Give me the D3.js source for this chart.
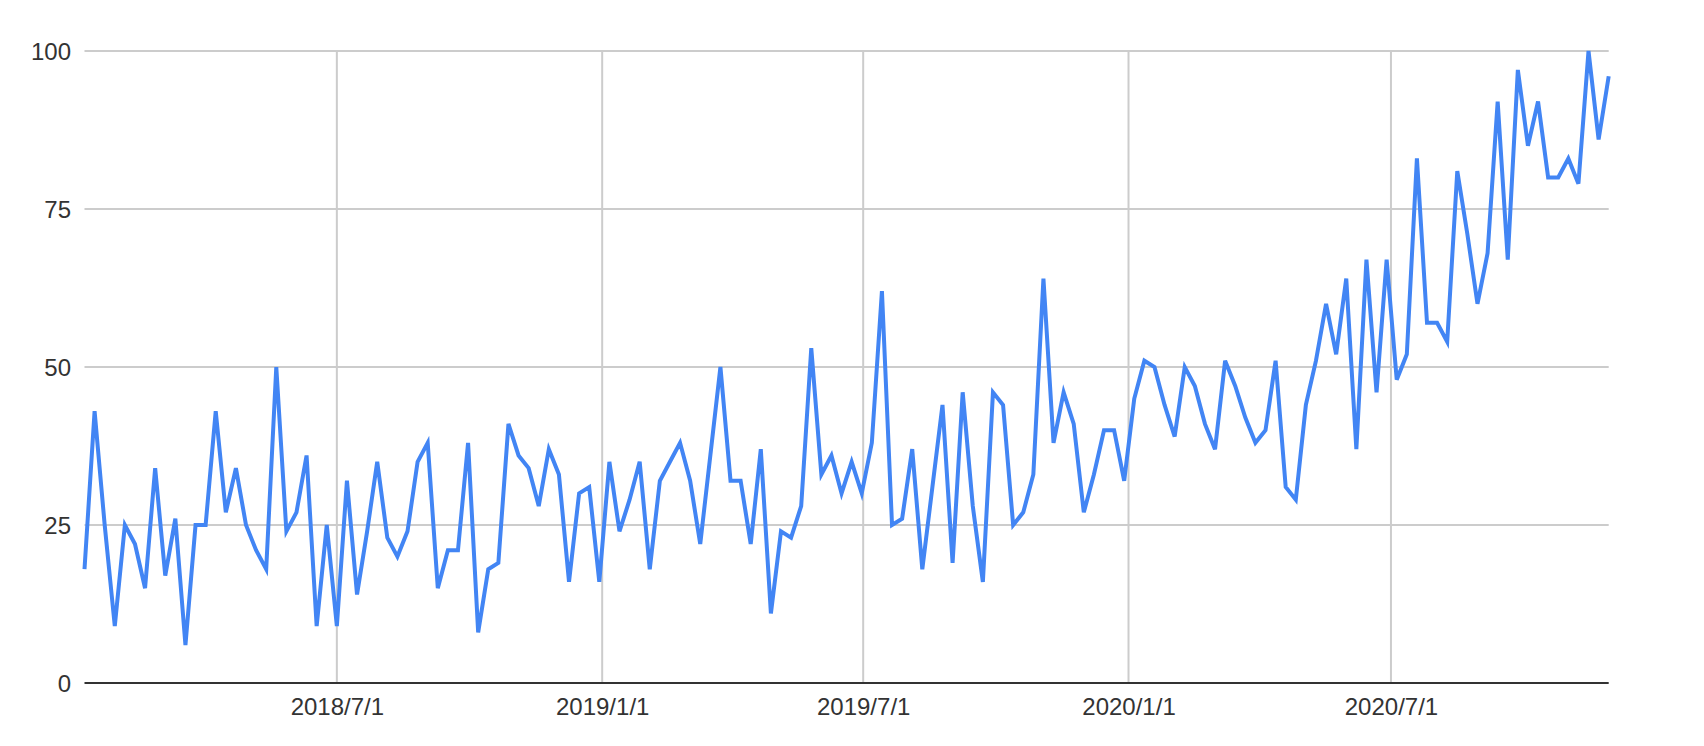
<!DOCTYPE html>
<html>
<head>
<meta charset="utf-8">
<script src="https://cdn.jsdelivr.net/npm/d3@7"></script>
<style>
  html, body { margin: 0; padding: 0; background: #ffffff; }
  svg { display: block; }
  text { font-family: "Liberation Sans", Arial, sans-serif; }
</style>
</head>
<body>
<svg id="chart" width="1704" height="746"></svg>
<script>
// ---- data ----
const firstWeek = "2018-01-07";   // weekly series, Sunday-start weeks
const lastWeek = "2020-11-29";
const values = [
  18, 43, 25, 9, 25, 22, 15, 34, 17, 26,
  6, 25, 25, 43, 27, 34, 25, 21, 18, 50,
  24, 27, 36, 9, 25, 9, 32, 14, 24, 35,
  23, 20, 24, 35, 38, 15, 21, 21, 38, 8,
  18, 19, 41, 36, 34, 28, 37, 33, 16, 30,
  31, 16, 35, 24, 29, 35, 18, 32, 35, 38,
  32, 22, 36, 50, 32, 32, 22, 37, 11, 24,
  23, 28, 53, 33, 36, 30, 35, 30, 38, 62,
  25, 26, 37, 18, 31, 44, 19, 46, 28, 16,
  46, 44, 25, 27, 33, 64, 38, 46, 41, 27,
  33, 40, 40, 32, 45, 51, 50, 44, 39, 50,
  47, 41, 37, 51, 47, 42, 38, 40, 51, 31,
  29, 44, 51, 60, 52, 64, 37, 67, 46, 67,
  48, 52, 83, 57, 57, 54, 81, 71, 60, 68,
  92, 67, 97, 85, 92, 80, 80, 83, 79, 100,
  86, 96
];
const xTickLabels = ["2018/7/1", "2019/1/1", "2019/7/1", "2020/1/1", "2020/7/1"];
const yTicks = [0, 25, 50, 75, 100];

// ---- layout ----
const margin = { left: 84.5, right: 1704 - 1608.7, top: 51, bottom: 746 - 683 };
const W = 1704, H = 746;

const parse = d3.timeParse("%Y-%m-%d");
const parseTick = d3.timeParse("%Y/%m/%d");
const start = parse(firstWeek);
const dates = values.map((v, i) => d3.timeWeek.offset(start, i));
const series = values.map((v, i) => ({ date: dates[i], value: v }));

const x = d3.scaleTime()
  .domain([start, parse(lastWeek)])
  .range([margin.left, W - margin.right]);
const y = d3.scaleLinear()
  .domain([0, 100])
  .range([H - margin.bottom, margin.top]);

const svg = d3.select("#chart");
svg.append("rect").attr("width", W).attr("height", H).attr("fill", "#ffffff");

const xTickDates = xTickLabels.map(s => parseTick(s));

// horizontal gridlines
svg.append("g")
  .selectAll("line")
  .data(yTicks.filter(t => t !== 0))
  .join("line")
  .attr("x1", x.range()[0]).attr("x2", x.range()[1])
  .attr("y1", d => y(d)).attr("y2", d => y(d))
  .attr("stroke", "#cccccc").attr("stroke-width", 2);

// vertical gridlines
svg.append("g")
  .selectAll("line")
  .data(xTickDates)
  .join("line")
  .attr("x1", d => x(d)).attr("x2", d => x(d))
  .attr("y1", y(100)).attr("y2", y(0))
  .attr("stroke", "#cccccc").attr("stroke-width", 2);

// y axis labels
const yAxis = d3.axisLeft(y).tickValues(yTicks).tickSize(0).tickPadding(0);
const gy = svg.append("g")
  .attr("transform", `translate(${71},0)`)
  .call(yAxis);
gy.select(".domain").remove();
gy.selectAll("text")
  .attr("font-size", 24)
  .attr("fill", "#333333")
  .attr("font-family", "Liberation Sans, Arial, sans-serif")
  .attr("dy", "0.36em");

// x axis labels
const xAxis = d3.axisBottom(x)
  .tickValues(xTickDates)
  .tickFormat((d, i) => xTickLabels[i])
  .tickSize(0).tickPadding(0);
const gx = svg.append("g")
  .attr("transform", `translate(0,${H - margin.bottom})`)
  .call(xAxis);
gx.select(".domain").remove();
gx.selectAll("text")
  .attr("font-size", 24)
  .attr("fill", "#333333")
  .attr("font-family", "Liberation Sans, Arial, sans-serif")
  .attr("y", 0)
  .attr("dy", 32);

// baseline
svg.append("line")
  .attr("x1", x.range()[0]).attr("x2", x.range()[1])
  .attr("y1", y(0)).attr("y2", y(0))
  .attr("stroke", "#333333").attr("stroke-width", 2);

// series line
const line = d3.line()
  .x(d => x(d.date))
  .y(d => y(d.value));

svg.append("path")
  .datum(series)
  .attr("d", line)
  .attr("fill", "none")
  .attr("stroke", "#4285f4")
  .attr("stroke-width", 4)
  .attr("stroke-linejoin", "miter");
</script>
</body>
</html>
